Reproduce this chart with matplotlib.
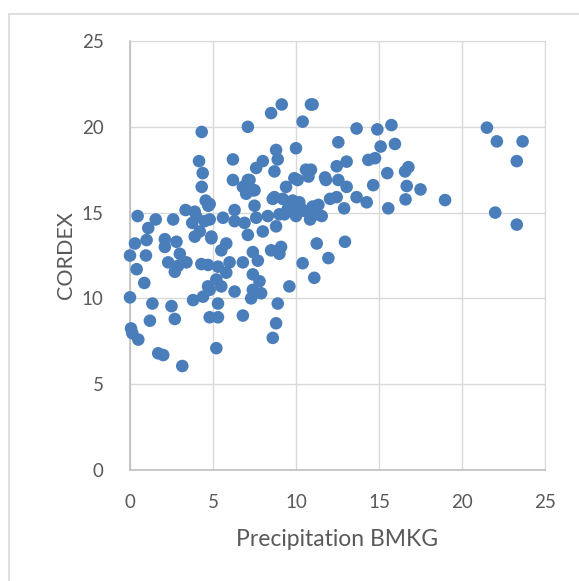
import matplotlib.pyplot as plt
from matplotlib.patches import Rectangle

# Precipitation BMKG vs CORDEX
bmkg = [
    4.32, 4.16, 4.38, 4.32, 4.56, 4.72, 3.35, 3.9, 0.46, 1.55, 2.6, 1.1, 3.75, 3.9,
    2.1, 2.8, 1.0, 0.3, 2.1, 3.0, 0.0, 0.96, 2.3, 3.4, 2.7, 4.3, 0.4, 0.86, 0.0, 1.35,
    2.5, 2.7, 1.2, 0.06, 0.14, 0.5, 1.7, 2.0, 3.15, 3.8, 4.4, 4.7, 4.0, 4.5, 4.9, 2.9,
    4.7, 4.2,
    9.14, 8.5, 7.1, 10.4, 10.9, 10.0, 8.8, 8.9, 8.0, 7.6, 6.2, 8.7, 6.2, 7.1, 6.8, 7.5,
    7.0, 9.4, 9.9, 10.6, 8.7, 9.2, 9.8, 10.0, 10.4, 7.5, 4.8, 6.3, 5.6, 4.8, 6.9, 6.3,
    7.6, 8.3, 9.0, 8.8, 8.0, 7.1, 4.9, 5.8, 5.5, 8.5, 9.1, 9.0, 7.4, 7.7, 6.8, 6.0,
    5.3, 5.8, 5.2, 7.4, 7.8, 5.5, 4.8, 6.3, 7.4, 7.9, 7.3, 9.6, 10.4, 5.3, 5.3, 4.8,
    6.8, 8.9, 8.8, 8.6, 5.2, 7.2, 7.4, 8.6, 10.1,
    11.0, 13.65, 14.9, 15.75, 12.55, 15.1, 15.96, 13.05, 12.45, 14.36, 14.76, 10.9,
    10.75, 11.75, 11.8, 12.55, 13.05, 15.5, 14.65, 12.45, 12.05, 13.65, 14.26, 12.9,
    11.35, 11.0, 11.55, 10.85, 10.5, 15.56, 11.25, 12.95, 11.95, 11.1,
    9.5, 10.2, 10.8, 11.2, 9.3, 10.0,
    16.77, 16.57, 16.67, 17.5, 16.6, 18.98, 21.5, 22.1, 23.65, 23.3, 22.0, 23.3,
]
cordex = [
    19.7, 18.0, 17.3, 16.5, 15.7, 15.4, 15.15, 15.05, 14.8, 14.6, 14.6, 14.1, 14.4, 13.6,
    13.45, 13.3, 13.4, 13.2, 13.0, 12.6, 12.5, 12.5, 12.1, 12.1, 11.55, 12.0, 11.7, 10.9, 10.06, 9.7,
    9.55, 8.8, 8.7, 8.25, 7.97, 7.6, 6.8, 6.7, 6.06, 9.9, 10.1, 10.7, 14.75, 14.5, 13.6, 11.9,
    11.95, 13.9,
    21.3, 20.8, 20.0, 20.3, 21.3, 18.75, 18.65, 18.1, 18.0, 17.6, 18.1, 17.4, 16.9, 16.9, 16.5, 16.3,
    16.1, 16.5, 17.0, 17.5, 15.9, 15.8, 15.7, 15.35, 15.15, 15.4, 15.5, 15.15, 14.7, 14.6, 14.4, 14.5,
    14.7, 14.8, 14.9, 14.2, 13.9, 13.7, 13.5, 13.2, 12.8, 12.8, 13.0, 12.6, 12.7, 12.2, 12.1, 12.1,
    11.85, 11.5, 11.1, 11.4, 11.0, 10.7, 10.5, 10.4, 10.5, 10.3, 10.0, 10.7, 12.05, 9.7, 8.9, 8.9,
    9.0, 9.7, 8.55, 7.7, 7.1, 16.9, 16.3, 15.8, 16.9,
    21.3, 19.9, 19.85, 20.1, 19.1, 18.85, 19.0, 17.97, 17.7, 18.07, 18.17, 17.5,
    17.1, 17.05, 16.9, 16.9, 16.5, 17.3, 16.6, 15.9, 15.8, 15.9, 15.6, 15.25,
    15.45, 15.35, 14.8, 14.6, 15.1, 15.25, 13.2, 13.3, 12.35, 11.2,
    15.2, 15.6, 15.0, 14.9, 14.9, 14.8,
    17.65, 17.4, 16.55, 16.35, 15.77, 15.73, 19.95, 19.15, 19.15, 18.0, 15.0, 14.3,
]

plt.rcParams['font.family'] = ['Lato', 'DejaVu Sans']

fig = plt.figure(figsize=(5.79, 5.81), dpi=100)
# chart area border like an Excel chart
fig.patches.append(Rectangle((9 / 579, -0.1), 1.2, 1.1 - 14 / 581, transform=fig.transFigure,
                             fill=False, edgecolor='#D9D9D9', linewidth=1.2))

ax = fig.add_axes([130 / 579, 1 - 470 / 581, 415 / 579, 429 / 581])
ax.scatter(bmkg, cordex, s=82, color='#4A7EBB', edgecolors='none', zorder=3, clip_on=False)

ax.set_xlim(0, 25)
ax.set_ylim(0, 25)
ax.set_xticks(range(0, 26, 5))
ax.set_yticks(range(0, 26, 5))
ax.grid(True, color='#D9D9D9', linewidth=1.0)
ax.set_axisbelow(True)
for side in ['top', 'right']:
    ax.spines[side].set_color('#D9D9D9')
for side in ['left', 'bottom']:
    ax.spines[side].set_color('#BFBFBF')
    ax.spines[side].set_linewidth(1.2)
ax.tick_params(length=0, labelsize=13.5, labelcolor='#595959', pad=17)
ax.tick_params(axis='y', pad=19)

ax.set_xlabel('Precipitation BMKG', fontsize=16.5, color='#595959', labelpad=13)
ax.set_ylabel('CORDEX', fontsize=15.5, color='#595959', labelpad=4)

fig.savefig('out.png', dpi=100)
